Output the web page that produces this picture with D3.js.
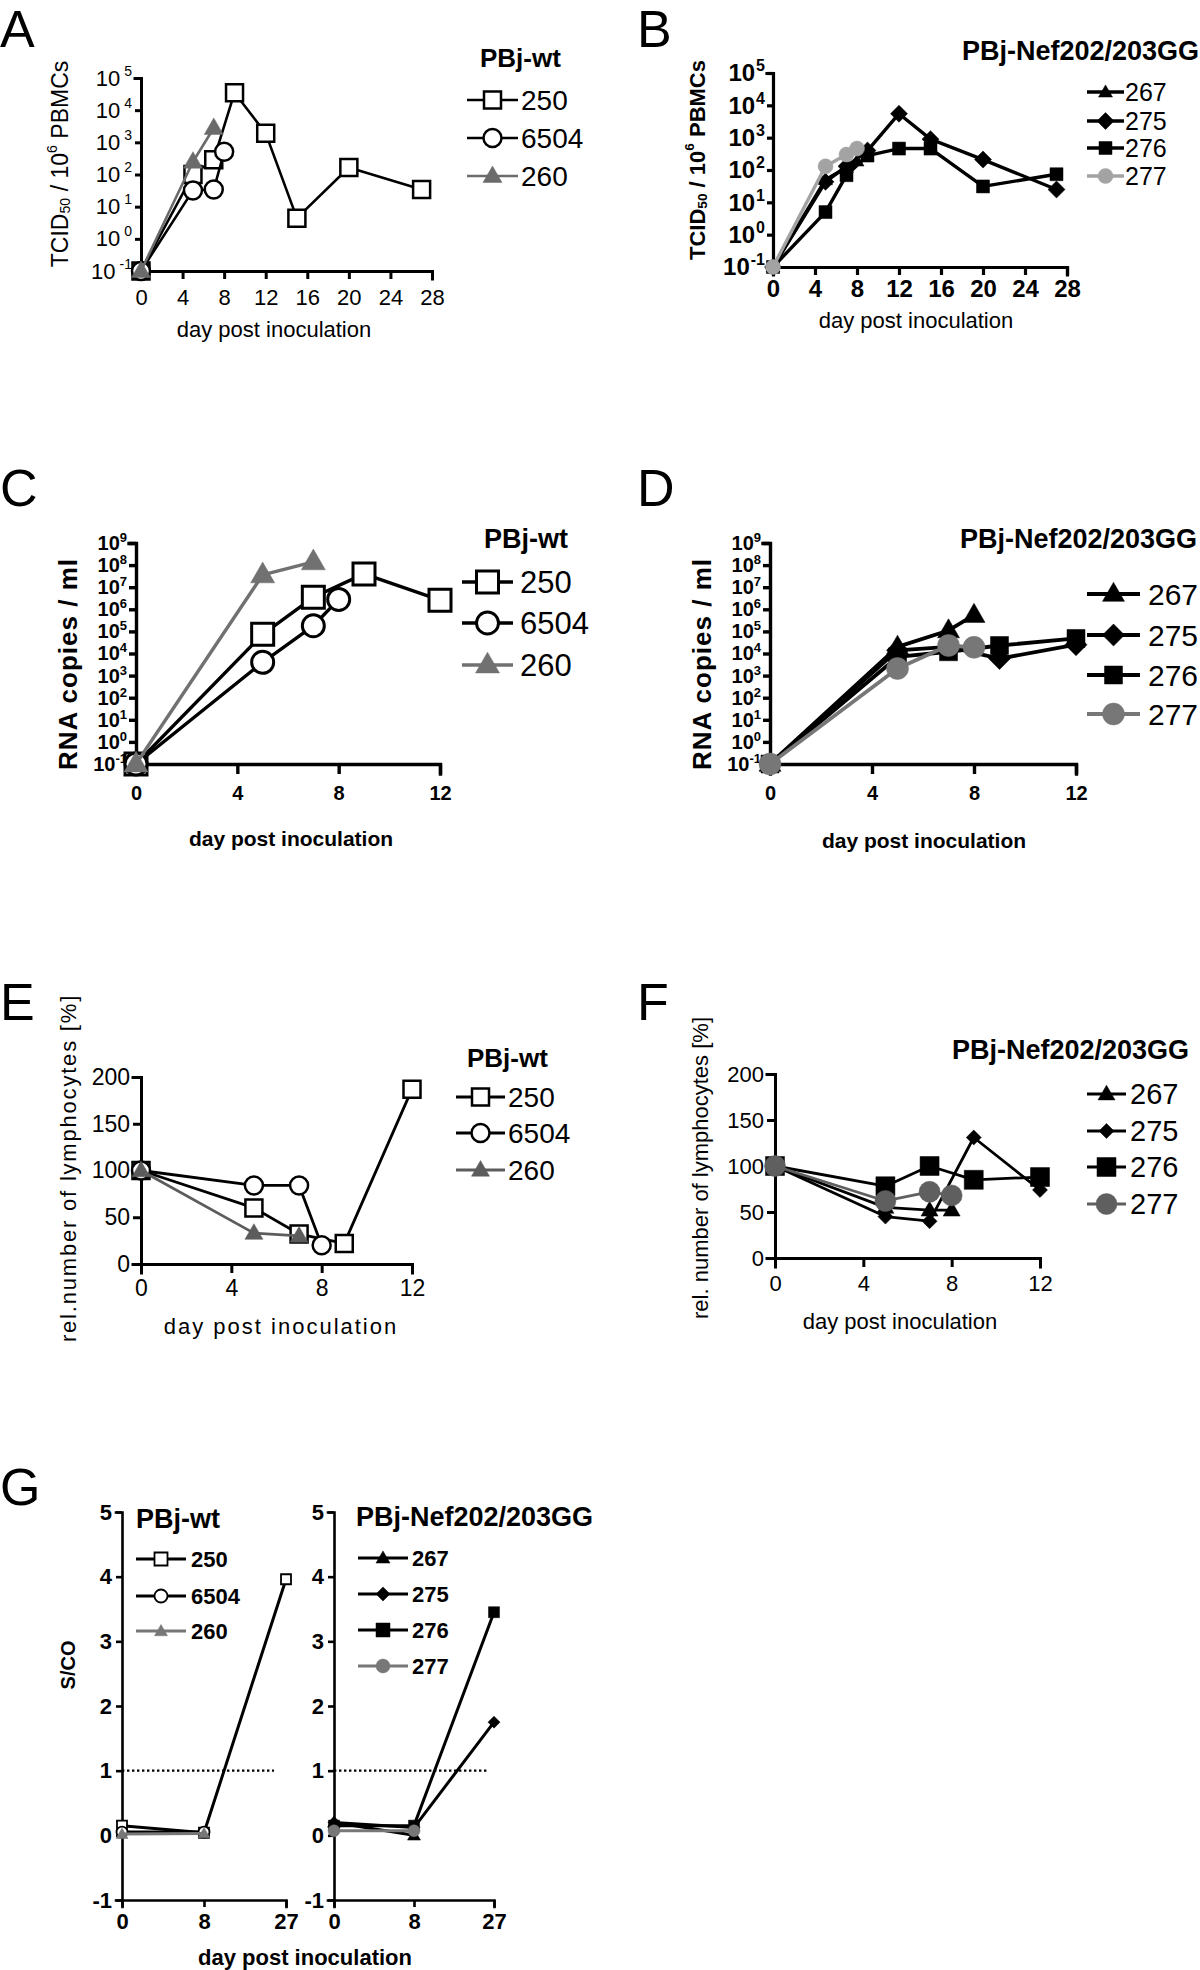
<!DOCTYPE html>
<html><head><meta charset="utf-8">
<script src="https://cdn.jsdelivr.net/npm/d3@7"></script>
<style>
body{margin:0;background:#fff}
svg{display:block;background:#fff}
text{font-family:"Liberation Sans",Arial,sans-serif;fill:#000}
</style></head><body>
<script>
// ---------------- DATA ----------------
const groupWt = "PBj-wt";
const groupMut = "PBj-Nef202/203GG";
const animalsWt = ["250", "6504", "260"];
const animalsMut = ["267", "275", "276", "277"];
const xTitleText = "day post inoculation";

// Panel A: TCID50 / 10^6 PBMCs (PBj-wt)
const A_days_250 = [0, 5, 7, 9, 12, 15, 20, 27];
const A_vals_250 = [0.1, 100, 290, 35000, 1900, 4.4, 165, 34];
const A_days_6504 = [0, 5, 7, 8];
const A_vals_6504 = [0.1, 32, 34, 510];
const A_days_260 = [0, 5, 7];
const A_vals_260 = [0.1, 250, 2800];

// Panel B: TCID50 (PBj-Nef202/203GG)
const B_days_267 = [0, 5, 7, 8];
const B_vals_267 = [0.1, 50, 120, 190];
const B_days_275 = [0, 5, 7, 9, 12, 15, 20, 27];
const B_vals_275 = [0.1, 43, 130, 400, 5500, 900, 210, 25];
const B_days_276 = [0, 5, 7, 9, 12, 15, 20, 27];
const B_vals_276 = [0.1, 5, 69, 280, 460, 460, 31, 74];
const B_days_277 = [0, 5, 7, 8];
const B_vals_277 = [0.1, 130, 300, 460];

// Panel C: RNA copies / ml (PBj-wt)
const C_days_250 = [0, 5, 7, 9, 12];
const C_vals_250 = [0.1, 7.4e4, 3.5e6, 4e7, 2.6e6];
const C_days_6504 = [0, 5, 7, 8];
const C_vals_6504 = [0.1, 4e3, 1.8e5, 2.8e6];
const C_days_260 = [0, 5, 7];
const C_vals_260 = [0.1, 3.6e7, 1.4e8];

// Panel D: RNA copies / ml (PBj-Nef202/203GG)
const D_days_267 = [0, 5, 7, 8];
const D_vals_267 = [0.1, 2e4, 1.1e5, 5.5e5];
const D_days_275 = [0, 5, 7, 9, 12];
const D_vals_275 = [0.1, 1.4e4, 2e4, 5.9e3, 2.5e4];
const D_days_276 = [0, 5, 7, 9, 12];
const D_vals_276 = [0.1, 7e3, 1.2e4, 2.3e4, 4.8e4];
const D_days_277 = [0, 5, 7, 8];
const D_vals_277 = [0.1, 2.1e3, 2.3e4, 1.9e4];

// Panel E: relative lymphocytes (PBj-wt)
const E_days_250 = [0, 5, 7, 9, 12];
const E_vals_250 = [100, 60, 32, 22, 187];
const E_days_6504 = [0, 5, 7, 8];
const E_vals_6504 = [100, 84, 84, 20];
const E_days_260 = [0, 5, 7];
const E_vals_260 = [100, 33, 30];

// Panel F: relative lymphocytes (PBj-Nef202/203GG)
const F_days_267 = [0, 5, 7, 8];
const F_vals_267 = [100, 55, 52, 52];
const F_days_275 = [0, 5, 7, 9, 12];
const F_vals_275 = [100, 45, 40, 131, 74];
const F_days_276 = [0, 5, 7, 9, 12];
const F_vals_276 = [100, 78, 100, 85, 88];
const F_days_277 = [0, 5, 7, 8];
const F_vals_277 = [100, 62, 72, 68];

// Panel G: S/CO
const G_days = ["0", "8", "27"];
const G_days_short = ["0", "8"];
const G_vals_250 = [0.15, 0.04, 3.96];
const G_vals_6504 = [0.05, 0.05];
const G_vals_260 = [0.02, 0.03];
const G_vals_267 = [0.2, 0.0];
const G_vals_275 = [0.2, 0.12, 1.75];
const G_vals_276 = [0.15, 0.15, 3.45];
const G_vals_277 = [0.07, 0.07];
const G_cutoff = 1;

// tick values
const logTicksA = [0.1, 1, 10, 100, 1e3, 1e4, 1e5];
const logTicksC = [0.1, 1, 10, 100, 1e3, 1e4, 1e5, 1e6, 1e7, 1e8, 1e9];
const dayTicks28 = [0, 4, 8, 12, 16, 20, 24, 28];
const dayTicks12 = [0, 4, 8, 12];
const lymphTicks = [0, 50, 100, 150, 200];
const scoTicks = [-1, 0, 1, 2, 3, 4, 5];

// ---------------- DRAWING ----------------
const svg = d3.select("body").append("svg").attr("width", 1200).attr("height", 1970);
svg.append("rect").attr("width", 1200).attr("height", 1970).attr("fill", "#fff");

function symPath(shape, w) {
  if (shape === "square") return d3.symbol(d3.symbolSquare, w * w)();
  if (shape === "circle") return d3.symbol(d3.symbolCircle, Math.PI * (w / 2) * (w / 2))();
  if (shape === "triangle") return d3.symbol(d3.symbolTriangle, w * w * Math.sqrt(3) / 4)();
  if (shape === "diamond") return d3.symbol(d3.symbolSquare, (w / Math.SQRT2) * (w / Math.SQRT2))();
}
function drawMarker(g, shape, cx, cy, s) {
  return g.append("path").attr("d", symPath(shape, s.size))
    .attr("transform", `translate(${cx},${cy})` + (shape === "diamond" ? " rotate(45)" : "") + (shape === "triangle" ? " translate(0,1)" : ""))
    .attr("fill", s.open ? "#fff" : s.color)
    .attr("stroke", s.color)
    .attr("stroke-width", s.open ? s.mw : 0.5);
}
function supLabel(sel, gap, supSize, dy) {
  sel.each(function (d) {
    const t = d3.select(this);
    const e = Math.round(Math.log10(d));
    t.text("");
    t.append("tspan").text("10");
    t.append("tspan").attr("dx", gap).attr("dy", dy).attr("font-size", supSize).text(e);
  });
}

function drawPanel(p) {
  const g = svg.append("g");
  const x = p.x, y = p.y;
  const yBottom = y.range()[0];
  const xLeft = x.range()[0];
  const fam = p.tickFamily || "Liberation Sans, Arial, sans-serif";
  // x axis
  const xa = d3.axisBottom(x).tickValues(p.xTicks).tickSizeOuter(0).tickSize(p.xTickLen).tickPadding(p.xPad);
  const gx = g.append("g").attr("transform", `translate(0,${yBottom})`).call(xa);
  gx.attr("font-size", p.tickSize).attr("font-family", fam).attr("font-weight", p.tickWeight || "normal");
  gx.selectAll(".domain,.tick line").attr("stroke", "#000").attr("stroke-width", p.axisW);
  // y axis
  const ya = d3.axisLeft(y).tickValues(p.yTicks).tickSizeOuter(0).tickSize(p.yTickLen).tickPadding(p.yPad);
  if (p.yFormat) ya.tickFormat(p.yFormat);
  const gy = g.append("g").attr("transform", `translate(${xLeft},0)`).call(ya);
  gy.attr("font-size", p.yTickSize || p.tickSize).attr("font-family", fam).attr("font-weight", p.tickWeight || "normal");
  gy.selectAll(".domain,.tick line").attr("stroke", "#000").attr("stroke-width", p.axisW);
  gx.selectAll("text").attr("fill", "#000");
  gy.selectAll("text").attr("fill", "#000");
  if (p.logLabels) supLabel(gy.selectAll(".tick text"), p.supGap, p.supSize, p.supDy);
  gx.select(".domain").attr("stroke-linecap", "square");
  gy.select(".domain").attr("stroke-linecap", "square");

  // reference line
  if (p.refLine) {
    g.append("line").attr("x1", x(p.refLine.from)).attr("x2", x(p.refLine.from) + p.refLine.len)
      .attr("y1", y(p.refLine.value)).attr("y2", y(p.refLine.value))
      .attr("stroke", "#000").attr("stroke-width", 2.4).attr("stroke-dasharray", "2.4,2.6");
  }

  // series
  p.series.forEach(s => {
    const pts = s.days.map((d, i) => [d, s.vals[i]]);
    g.append("path").datum(pts)
      .attr("d", d3.line().x(d => x(d[0])).y(d => y(d[1])))
      .attr("fill", "none").attr("stroke", s.color).attr("stroke-width", p.lineW).attr("stroke-linejoin", "round");
    pts.forEach(d => drawMarker(g, s.shape, x(d[0]), y(d[1]), s));
  });

  // legend
  if (p.legend) {
    const L = p.legend;
    g.append("text").attr("x", L.titleX).attr("y", L.titleY).attr("text-anchor", L.titleAnchor || "start")
      .attr("dominant-baseline", "middle").attr("font-weight", "bold").attr("font-size", L.titleSize).text(L.title);
    p.series.forEach((s, i) => {
      const yy = L.ys[i];
      g.append("line").attr("x1", L.x1).attr("x2", L.x2).attr("y1", yy).attr("y2", yy)
        .attr("stroke", s.color).attr("stroke-width", L.lineW || p.lineW);
      drawMarker(g, s.shape, (L.x1 + L.x2) / 2, yy, Object.assign({}, s, { size: L.markSize || s.size }));
      g.append("text").attr("x", L.textX).attr("y", yy).attr("dominant-baseline", "central")
        .attr("font-size", L.size).attr("font-weight", L.weight || "normal").text(s.name);
    });
  }
  // titles
  if (p.xTitle) {
    const t = p.xTitle;
    g.append("text").attr("x", t.x).attr("y", t.y).attr("text-anchor", "middle").attr("dominant-baseline", "central")
      .attr("font-size", t.size).attr("font-weight", t.weight || "normal")
      .attr("font-family", t.family || null).attr("letter-spacing", t.ls || null).text(xTitleText);
  }
  if (p.yTitle) {
    const t = p.yTitle;
    const tt = g.append("text").attr("transform", `translate(${t.x},${t.y}) rotate(-90)`)
      .attr("text-anchor", "middle").attr("dominant-baseline", "central")
      .attr("font-size", t.size).attr("font-weight", t.weight || "normal")
      .attr("font-family", t.family || null).attr("letter-spacing", t.ls || null);
    if (t.parts) {
      t.parts.forEach(pt => {
        const ts = tt.append("tspan").text(pt.t);
        if (pt.sub) ts.attr("font-size", t.size * 0.62).attr("dy", 5);
        if (pt.sup) ts.attr("font-size", t.size * 0.62).attr("dy", -8);
        if (pt.back) ts.attr("dy", pt.back);
      });
    } else tt.text(t.text);
  }
  if (p.letter) {
    svg.append("text").attr("x", p.letter.x).attr("y", p.letter.y).attr("font-size", 52).text(p.letter.t);
  }
}

function mk(name, days, vals, shape, color, open, size, mw) {
  return { name, days, vals, shape, color, open, size, mw: mw || 2.5 };
}
const BLK = "#000";
const plainFmt = d => String(d);

// ---- Panel A ----
drawPanel({
  x: d3.scaleLinear().domain([0, 28]).range([141, 432]),
  y: d3.scaleLog().domain([0.1, 1e5]).range([271, 78]),
  xTicks: dayTicks28, yTicks: logTicksA,
  xTickLen: 8, xPad: 10, yTickLen: 6, yPad: 3,
  tickSize: 22, axisW: 3, lineW: 2.6,
  logLabels: true, supGap: 4, supSize: 14, supDy: -10,
  series: [
    mk(animalsWt[0], A_days_250, A_vals_250, "square", BLK, true, 17),
    mk(animalsWt[1], A_days_6504, A_vals_6504, "circle", BLK, true, 18),
    mk(animalsWt[2], A_days_260, A_vals_260, "triangle", "#6b6b6b", false, 19)
  ],
  legend: { title: groupWt, titleX: 480, titleY: 60, titleSize: 26, ys: [100, 138, 176], x1: 467, x2: 518, textX: 521, size: 28 },
  xTitle: { x: 274, y: 329, size: 22 },
  yTitle: { x: 60, y: 164, size: 23, parts: [{ t: "TCID" }, { t: "50", sub: true }, { t: " / 10", back: -5 }, { t: "6", sup: true }, { t: " PBMCs", back: 8 }] },
  letter: { x: 0, y: 47, t: "A" }
});

// ---- Panel B ----
drawPanel({
  x: d3.scaleLinear().domain([0, 28]).range([773, 1067]),
  y: d3.scaleLog().domain([0.1, 1e5]).range([267, 73]),
  xTicks: dayTicks28, yTicks: logTicksA,
  xTickLen: 8, xPad: 5, yTickLen: 6, yPad: 2,
  tickSize: 24, tickWeight: "bold", axisW: 3.2, lineW: 3.4,
  logLabels: true, supGap: 1, supSize: 16, supDy: -10,
  series: [
    mk(animalsMut[0], B_days_267, B_vals_267, "triangle", BLK, false, 14),
    mk(animalsMut[1], B_days_275, B_vals_275, "diamond", BLK, false, 17),
    mk(animalsMut[2], B_days_276, B_vals_276, "square", BLK, false, 13),
    mk(animalsMut[3], B_days_277, B_vals_277, "circle", "#a3a3a3", false, 15)
  ],
  legend: { title: groupMut, titleX: 1199, titleAnchor: "end", titleY: 53, titleSize: 27, ys: [92, 121, 148, 176], x1: 1087, x2: 1124, textX: 1125, size: 25 },
  xTitle: { x: 916, y: 320, size: 22 },
  yTitle: { x: 697, y: 160, size: 22, weight: "bold", parts: [{ t: "TCID" }, { t: "50", sub: true }, { t: " / 10", back: -5 }, { t: "6", sup: true }, { t: " PBMCs", back: 8 }] },
  letter: { x: 637, y: 47, t: "B" }
});

// ---- Panel C ----
drawPanel({
  x: d3.scaleLinear().domain([0, 12]).range([136, 440]),
  y: d3.scaleLog().domain([0.1, 1e9]).range([764, 543]),
  xTicks: dayTicks12, yTicks: logTicksC,
  xTickLen: 10, xPad: 12, yTickLen: 7, yPad: 2,
  tickSize: 20, yTickSize: 20, tickWeight: "bold", axisW: 3.4, lineW: 3.4,
  logLabels: true, supGap: 0, supSize: 13, supDy: -8,
  series: [
    mk(animalsWt[0], C_days_250, C_vals_250, "square", BLK, true, 22, 3),
    mk(animalsWt[1], C_days_6504, C_vals_6504, "circle", BLK, true, 22, 3),
    mk(animalsWt[2], C_days_260, C_vals_260, "triangle", "#717171", false, 24)
  ],
  legend: { title: groupWt, titleX: 484, titleY: 541, titleSize: 27, ys: [582, 623, 665], x1: 462, x2: 513, textX: 520, size: 31 },
  xTitle: { x: 291, y: 838, size: 21, weight: "bold" },
  yTitle: { x: 68, y: 664, size: 26, weight: "bold", text: "RNA copies / ml", ls: 1 },
  letter: { x: 0, y: 506, t: "C" }
});

// ---- Panel D ----
drawPanel({
  x: d3.scaleLinear().domain([0, 12]).range([770, 1076]),
  y: d3.scaleLog().domain([0.1, 1e9]).range([764, 543]),
  xTicks: dayTicks12, yTicks: logTicksC,
  xTickLen: 10, xPad: 12, yTickLen: 7, yPad: 2,
  tickSize: 20, yTickSize: 20, tickWeight: "bold", axisW: 3.4, lineW: 3.8,
  logLabels: true, supGap: 0, supSize: 13, supDy: -8,
  series: [
    mk(animalsMut[0], D_days_267, D_vals_267, "triangle", BLK, false, 22),
    mk(animalsMut[1], D_days_275, D_vals_275, "diamond", BLK, false, 22),
    mk(animalsMut[2], D_days_276, D_vals_276, "square", BLK, false, 18),
    mk(animalsMut[3], D_days_277, D_vals_277, "circle", "#777", false, 22)
  ],
  legend: { title: groupMut, titleX: 1197, titleAnchor: "end", titleY: 541, titleSize: 27, ys: [594, 635, 675, 714], x1: 1087, x2: 1140, textX: 1148, size: 30 },
  xTitle: { x: 924, y: 840, size: 21, weight: "bold" },
  yTitle: { x: 702, y: 664, size: 26, weight: "bold", text: "RNA copies / ml", ls: 1 },
  letter: { x: 637, y: 506, t: "D" }
});

// ---- Panel E ----
drawPanel({
  x: d3.scaleLinear().domain([0, 12]).range([141, 412]),
  y: d3.scaleLinear().domain([0, 200]).range([1264, 1077]),
  xTicks: dayTicks12, yTicks: lymphTicks,
  xTickLen: 9, xPad: 7, yTickLen: 8, yPad: 3,
  tickSize: 23, axisW: 3, lineW: 2.8,
  series: [
    mk(animalsWt[0], E_days_250, E_vals_250, "square", BLK, true, 17),
    mk(animalsWt[1], E_days_6504, E_vals_6504, "circle", BLK, true, 18),
    mk(animalsWt[2], E_days_260, E_vals_260, "triangle", "#5c5c5c", false, 18)
  ],
  legend: { title: groupWt, titleX: 467, titleY: 1060, titleSize: 26, ys: [1097, 1133, 1170], x1: 456, x2: 505, textX: 508, size: 28 },
  xTitle: { x: 281, y: 1326, size: 22, family: "DejaVu Sans", ls: 2 },
  yTitle: { x: 68, y: 1168, size: 22, family: "DejaVu Sans", text: "rel.number of lymphocytes [%]", ls: 1.8 },
  letter: { x: 0, y: 1020, t: "E" }
});

// ---- Panel F ----
drawPanel({
  x: d3.scaleLinear().domain([0, 12]).range([775, 1040]),
  y: d3.scaleLinear().domain([0, 200]).range([1258, 1074]),
  xTicks: dayTicks12, yTicks: lymphTicks,
  xTickLen: 9, xPad: 8, yTickLen: 8, yPad: 3,
  tickSize: 22, axisW: 3, lineW: 2.8,
  series: [
    mk(animalsMut[0], F_days_267, F_vals_267, "triangle", BLK, false, 17),
    mk(animalsMut[1], F_days_275, F_vals_275, "diamond", BLK, false, 15),
    mk(animalsMut[2], F_days_276, F_vals_276, "square", BLK, false, 19),
    mk(animalsMut[3], F_days_277, F_vals_277, "circle", "#5f5f5f", false, 21)
  ],
  legend: { title: groupMut, titleX: 1189, titleAnchor: "end", titleY: 1052, titleSize: 27, ys: [1094, 1131, 1167, 1204], x1: 1087, x2: 1126, textX: 1130, size: 29 },
  xTitle: { x: 900, y: 1321, size: 22 },
  yTitle: { x: 700, y: 1168, size: 22, text: "rel. number of  lymphocytes [%]" },
  letter: { x: 637, y: 1020, t: "F" }
});

// ---- Panel G (left) ----
drawPanel({
  x: d3.scalePoint().domain(G_days).range([122, 286]),
  y: d3.scaleLinear().domain([-1, 5]).range([1900, 1512]),
  xTicks: G_days, yTicks: scoTicks, yFormat: plainFmt,
  xTickLen: 7, xPad: 6, yTickLen: 6, yPad: 4,
  tickSize: 22, tickWeight: "bold", axisW: 2.6, lineW: 3,
  refLine: { from: "0", value: G_cutoff, len: 152 },
  series: [
    mk(animalsWt[0], G_days, G_vals_250, "square", BLK, true, 10, 1.8),
    mk(animalsWt[1], G_days_short, G_vals_6504, "circle", BLK, true, 11, 1.8),
    mk(animalsWt[2], G_days_short, G_vals_260, "triangle", "#777", false, 12)
  ],
  legend: { title: groupWt, titleX: 136, titleY: 1521, titleSize: 27, ys: [1559, 1596, 1631], x1: 136, x2: 186, textX: 191, size: 22, weight: "bold", markSize: 13 },
  yTitle: { x: 68, y: 1665, size: 20, weight: "bold", text: "S/CO" },
  letter: { x: 0, y: 1505, t: "G" }
});

// ---- Panel G (right) ----
drawPanel({
  x: d3.scalePoint().domain(G_days).range([334, 494]),
  y: d3.scaleLinear().domain([-1, 5]).range([1900, 1512]),
  xTicks: G_days, yTicks: scoTicks, yFormat: plainFmt,
  xTickLen: 7, xPad: 6, yTickLen: 6, yPad: 4,
  tickSize: 22, tickWeight: "bold", axisW: 2.6, lineW: 3,
  refLine: { from: "0", value: G_cutoff, len: 154 },
  series: [
    mk(animalsMut[0], G_days_short, G_vals_267, "triangle", BLK, false, 13),
    mk(animalsMut[1], G_days, G_vals_275, "diamond", BLK, false, 12),
    mk(animalsMut[2], G_days, G_vals_276, "square", BLK, false, 11),
    mk(animalsMut[3], G_days_short, G_vals_277, "circle", "#777", false, 12)
  ],
  legend: { title: groupMut, titleX: 356, titleY: 1519, titleSize: 27, ys: [1558, 1594, 1630, 1666], x1: 358, x2: 408, textX: 412, size: 22, weight: "bold", markSize: 14 },
  xTitle: { x: 305, y: 1957, size: 22, weight: "bold" }
});
</script>
</body></html>
